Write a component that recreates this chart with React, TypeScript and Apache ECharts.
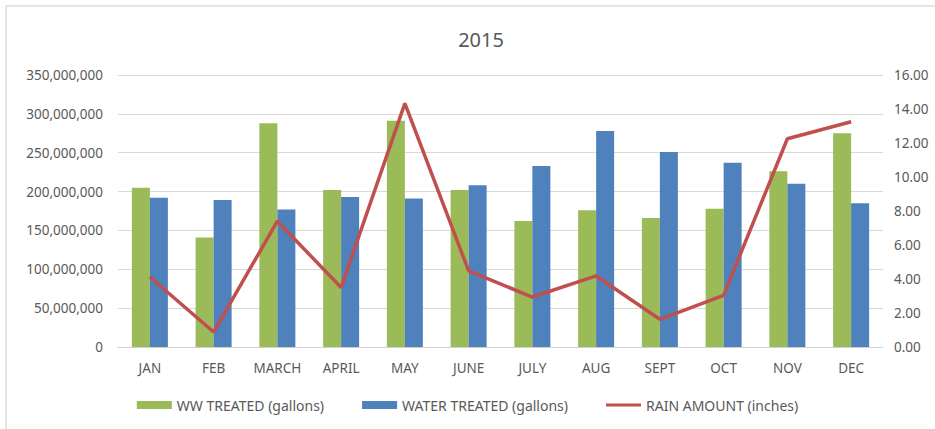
import React, { useEffect, useRef } from "react";
import * as echarts from "echarts";

const categories = ["JAN", "FEB", "MARCH", "APRIL", "MAY", "JUNE", "JULY", "AUG", "SEPT", "OCT", "NOV", "DEC"];
const wwTreated = [205e6, 141e6, 288e6, 202e6, 291e6, 202e6, 162e6, 176e6, 166e6, 178e6, 226e6, 275e6];
const waterTreated = [192e6, 189e6, 177e6, 193e6, 191e6, 208e6, 233e6, 278e6, 251e6, 237e6, 210e6, 185e6];
const rainAmount = [4.12, 0.88, 7.4, 3.5, 14.33, 4.48, 2.94, 4.18, 1.63, 3.04, 12.25, 13.25];
const titleText = "2015";
const seriesNames = ["WW TREATED (gallons)", "WATER TREATED (gallons)", "RAIN AMOUNT (inches)"];

const FONT = "'Noto Sans', 'Open Sans', sans-serif";
const TEXT = "#595959";

export default function App() {
  const ref = useRef<HTMLDivElement>(null);
  useEffect(() => {
    if (!ref.current) return;
    const chart = echarts.init(ref.current, undefined, { renderer: "svg" });
    chart.setOption({
      animation: false,
      backgroundColor: "#ffffff",
      title: {
        text: titleText,
        top: 24,
        left: 476,
        textAlign: "center",
        textStyle: { fontFamily: FONT, fontSize: 20, fontWeight: "normal", color: TEXT },
      },
      graphic: [
        { type: "line", shape: { x1: 6, y1: 6, x2: 6, y2: 429 }, style: { stroke: "#dcdcdc", lineWidth: 1.5 } },
        { type: "line", shape: { x1: 6, y1: 6, x2: 935, y2: 6 }, style: { stroke: "#dcdcdc", lineWidth: 1.5 } },
      ],
      legend: {
        bottom: 12,
        left: "center",
        itemGap: 38,
        itemWidth: 35,
        itemHeight: 8,
        textStyle: { fontFamily: FONT, fontSize: 14, color: TEXT },
        data: [
          { name: seriesNames[0], icon: "rect" },
          { name: seriesNames[1], icon: "rect" },
          { name: seriesNames[2], icon: "path://M0,0H100V9H0Z" },
        ],
      },
      grid: { left: 118, right: 52, top: 75, bottom: 82, containLabel: false },
      xAxis: {
        type: "category",
        data: categories,
        axisTick: { show: false },
        axisLine: { lineStyle: { color: "#d0d0d0", width: 1 } },
        axisLabel: { fontFamily: FONT, fontSize: 13.5, color: TEXT, margin: 14 },
      },
      yAxis: [
        {
          type: "value",
          min: 0,
          max: 350000000,
          interval: 50000000,
          axisLine: { show: false },
          axisTick: { show: false },
          splitLine: { lineStyle: { color: "#d9d9d9", width: 1 } },
          axisLabel: {
            fontFamily: FONT,
            fontSize: 13.5,
            color: TEXT,
            margin: 15,
            formatter: (v: number) => v.toLocaleString("en-US"),
          },
        },
        {
          type: "value",
          min: 0,
          max: 16,
          interval: 2,
          axisLine: { show: false },
          axisTick: { show: false },
          splitLine: { show: false },
          axisLabel: {
            fontFamily: FONT,
            fontSize: 13.5,
            color: TEXT,
            margin: 11,
            formatter: (v: number) => v.toFixed(2),
          },
        },
      ],
      series: [
        {
          name: seriesNames[0],
          type: "bar",
          data: wwTreated,
          barWidth: 18,
          barGap: "0%",
          itemStyle: { color: "#9BBB59" },
        },
        {
          name: seriesNames[1],
          type: "bar",
          data: waterTreated,
          barWidth: 18,
          barGap: "0%",
          itemStyle: { color: "#4F81BD" },
        },
        {
          name: seriesNames[2],
          type: "line",
          yAxisIndex: 1,
          data: rainAmount,
          symbol: "none",
          showSymbol: false,
          lineStyle: { color: "#C0504D", width: 3.5 },
          itemStyle: { color: "#C0504D" },
        },
      ],
    });
    return () => chart.dispose();
  }, []);
  return (
    <div
      ref={ref}
      style={{ position: "absolute", left: 0, top: 0, width: 935, height: 429 }}
    />
  );
}
